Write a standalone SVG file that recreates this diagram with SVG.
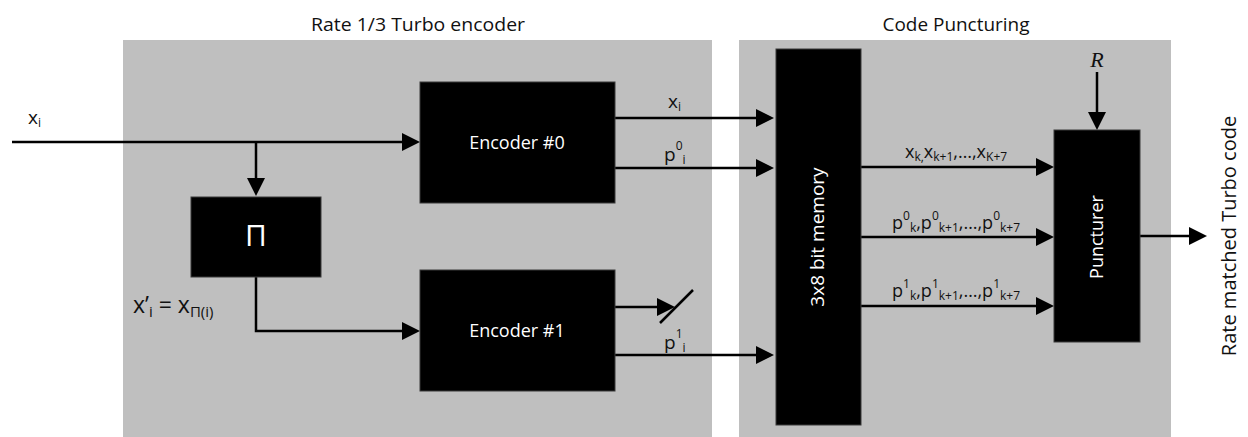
<svg xmlns="http://www.w3.org/2000/svg" width="1248" height="437" viewBox="0 0 1248 437">
  <style>
    .panel { fill: #bfbfbf; }
    .block { fill: #000; stroke: #3a3a3a; stroke-width: 1; }
    .wire { fill: none; stroke: #000; stroke-width: 2.5; }
    .title { font-family: "Open Sans", "Noto Sans", sans-serif; font-size: 19px; fill: #111; text-anchor: middle; }
    .inner { font-family: "Open Sans", "Noto Sans", sans-serif; font-size: 18px; fill: #fff; text-anchor: middle; }
    .lbl { font-family: "Open Sans", "Noto Sans", sans-serif; font-size: 19px; fill: #111; }
    .seq { font-family: "Open Sans", "Noto Sans", sans-serif; font-size: 18px; fill: #111; }
    .sub { font-size: 12px; }
    .sml { font-size: 15px; }
  </style>
  <defs>
    <marker id="arrow" viewBox="0 0 18 18" refX="9" refY="9" markerWidth="18" markerHeight="18" markerUnits="userSpaceOnUse" orient="auto">
      <path d="M0,0 L18,9 L0,18 Z" fill="#000"/>
    </marker>
  </defs>

  <rect width="1248" height="437" fill="#fff"/>

  <!-- background panels -->
  <g id="panel-encoder">
    <rect class="panel" x="123" y="40" width="589" height="397"/>
    <text class="title" x="418" y="31" textLength="214" lengthAdjust="spacingAndGlyphs">Rate 1/3 Turbo encoder</text>
  </g>
  <g id="panel-puncturing">
    <rect class="panel" x="739" y="40" width="432" height="397"/>
    <text class="title" x="956" y="31" textLength="147" lengthAdjust="spacingAndGlyphs">Code Puncturing</text>
  </g>

  <!-- connectors -->
  <g id="connectors">
    <path class="wire" d="M12,142 H411" marker-end="url(#arrow)"/>
    <path class="wire" d="M256,142 V187" marker-end="url(#arrow)"/>
    <path class="wire" d="M256,277 V331 H411" marker-end="url(#arrow)"/>
    <path class="wire" d="M615,118 H765" marker-end="url(#arrow)"/>
    <path class="wire" d="M615,168 H765" marker-end="url(#arrow)"/>
    <path class="wire" d="M615,307 H666" marker-end="url(#arrow)"/>
    <path class="wire" d="M660,323 L693,290"/>
    <path class="wire" d="M615,355 H765" marker-end="url(#arrow)"/>
    <path class="wire" d="M861,167 H1045" marker-end="url(#arrow)"/>
    <path class="wire" d="M861,237 H1045" marker-end="url(#arrow)"/>
    <path class="wire" d="M861,306 H1045" marker-end="url(#arrow)"/>
    <path class="wire" d="M1097,72 V121" marker-end="url(#arrow)"/>
    <path class="wire" d="M1140,236 H1198" marker-end="url(#arrow)"/>
  </g>

  <!-- connector labels -->
  <g id="labels">
    <text class="lbl" x="28" y="124">x<tspan class="sub" dy="3">i</tspan></text>
    <text class="lbl" x="668" y="108">x<tspan class="sub" dy="3">i</tspan></text>
    <text class="lbl" x="664" y="161">p<tspan class="sub" dy="-11">0</tspan><tspan class="sub" dy="14">i</tspan></text>
    <text class="lbl" x="664" y="349">p<tspan class="sub" dy="-11">1</tspan><tspan class="sub" dy="14">i</tspan></text>
    <text class="lbl" x="133" y="313" style="font-size:23px">x’<tspan class="sml" dy="4">i</tspan><tspan dy="-4"> = x</tspan><tspan class="sml" dy="4">Π(i)</tspan></text>
    <text class="seq" x="905" y="158">x<tspan class="sub" dy="3">k,</tspan><tspan dy="-3">x</tspan><tspan class="sub" dy="3">k+1</tspan><tspan dy="-3">,…,x</tspan><tspan class="sub" dy="3">K+7</tspan></text>
    <text class="seq" x="892" y="229">p<tspan class="sub" dy="-9">0</tspan><tspan class="sub" dy="12">k</tspan><tspan dy="-3">,p</tspan><tspan class="sub" dy="-9">0</tspan><tspan class="sub" dy="12">k+1</tspan><tspan dy="-3">,…,p</tspan><tspan class="sub" dy="-9">0</tspan><tspan class="sub" dy="12">k+7</tspan></text>
    <text class="seq" x="892" y="297">p<tspan class="sub" dy="-9">1</tspan><tspan class="sub" dy="12">k</tspan><tspan dy="-3">,p</tspan><tspan class="sub" dy="-9">1</tspan><tspan class="sub" dy="12">k+1</tspan><tspan dy="-3">,…,p</tspan><tspan class="sub" dy="-9">1</tspan><tspan class="sub" dy="12">k+7</tspan></text>
    <text x="1097" y="67" font-family="Liberation Serif, serif" font-style="italic" font-size="22" fill="#111" text-anchor="middle">R</text>
    <text class="lbl" transform="translate(1236,236) rotate(-90)" text-anchor="middle" style="font-size:20px">Rate matched Turbo code</text>
  </g>

  <!-- blocks -->
  <g id="interleaver">
    <rect class="block" x="191" y="197" width="130" height="80"/>
    <text class="inner" x="256" y="246" style="font-size:30px">Π</text>
  </g>
  <g id="encoder0">
    <rect class="block" x="420" y="82" width="195" height="121"/>
    <text class="inner" x="517" y="149">Encoder #0</text>
  </g>
  <g id="encoder1">
    <rect class="block" x="420" y="270" width="195" height="121"/>
    <text class="inner" x="517" y="337">Encoder #1</text>
  </g>
  <g id="memory">
    <rect class="block" x="776" y="49" width="85" height="376"/>
    <text class="inner" transform="translate(824,237) rotate(-90)" style="font-size:19px">3x8 bit memory</text>
  </g>
  <g id="puncturer">
    <rect class="block" x="1054" y="130" width="86" height="212"/>
    <text class="inner" transform="translate(1103,237) rotate(-90)">Puncturer</text>
  </g>
</svg>
